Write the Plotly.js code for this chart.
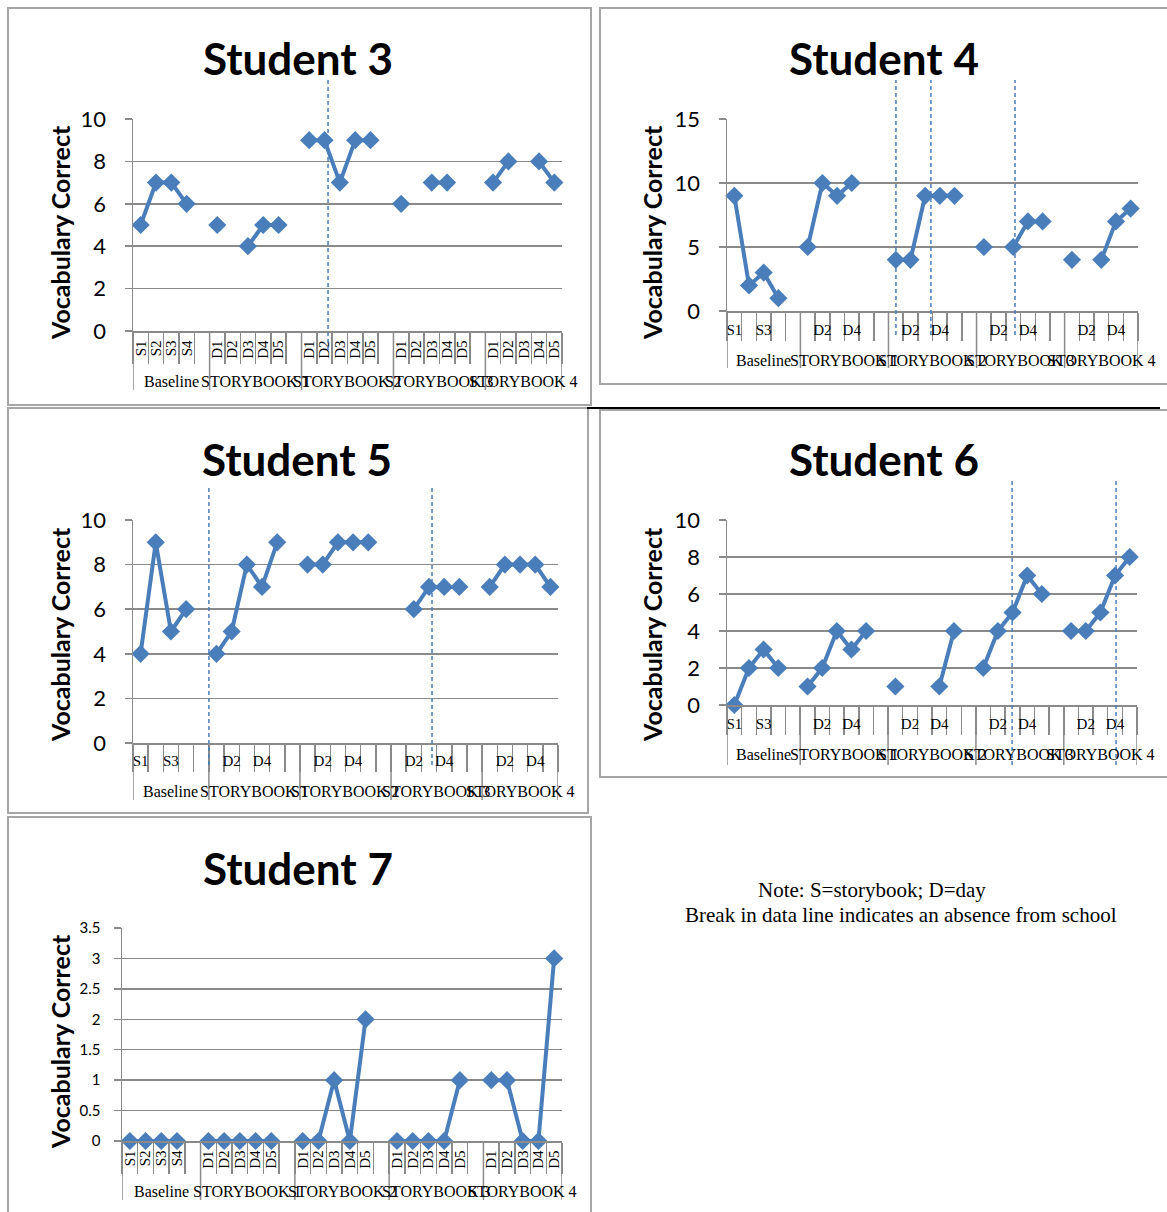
<!DOCTYPE html>
<html><head><meta charset="utf-8">
<script src="https://cdn.plot.ly/plotly-3.0.1.min.js"></script>
<style>html,body{margin:0;padding:0;background:#fff}#chart{width:1167px;height:1212px}</style>
</head><body><div id="chart"></div>
<script>
// ---- data ----
const categories = ['S1','S2','S3','S4','',
  'D1','D2','D3','D4','D5','',
  'D1','D2','D3','D4','D5','',
  'D1','D2','D3','D4','D5','',
  'D1','D2','D3','D4','D5'];
const groupNames = ['Baseline','STORYBOOK 1','STORYBOOK 2','STORYBOOK 3','STORYBOOK 4'];
const groupSizes = [5,6,6,6,5];

const student3 = [5,7,7,6,null, 5,null,4,5,5,null, 9,9,7,9,9,null, 6,null,7,7,null,null, 7,8,null,8,7];
const student4 = [9,2,3,1,null, 5,10,9,10,null,null, 4,4,9,9,9,null, 5,null,5,7,7,null, 4,null,4,7,8];
const student5 = [4,9,5,6,null, 4,5,8,7,9,null, 8,8,9,9,9,null, null,6,7,7,7,null, 7,8,8,8,7];
const student6 = [0,2,3,2,null, 1,2,4,3,4,null, 1,null,null,1,4,null, 2,4,5,7,6,null, 4,4,5,7,8];
const student7 = [0,0,0,0,null, 0,0,0,0,0,null, 0,0,1,0,2,null, 0,0,0,0,1,null, 1,1,0,0,3];

const yTicks3 = [0,2,4,6,8,10];
const yTicks4 = [0,5,10,15];
const yTicks5 = [0,2,4,6,8,10];
const yTicks6 = [0,2,4,6,8,10];
const yTicks7 = [0,0.5,1,1.5,2,2.5,3,3.5];

const yTitle = 'Vocabulary Correct';
const noteLines = ['Note: S=storybook; D=day','Break in data line indicates an absence from school'];

// ---- layout helpers ----
const W = 1167, H = 1212;
const fx = p => p / W, fy = p => 1 - p / H;
const BLUE = '#4a7ebb', GRAY = '#8a8a8a';

const idx = categories.map((c, i) => i);
const boundaries = [];
for (let i = 0; i <= categories.length; i++) boundaries.push(i - 0.5);
const groupEdges = [-0.5]; const groupCenters = [];
groupSizes.reduce((acc, s) => { groupCenters.push(acc + s / 2 - 0.5); groupEdges.push(acc + s - 0.5); return acc + s; }, 0);

const panels = [
  {name:'Student 3', values:student3, yTicks:yTicks3, box:[133,562,119,331], every:1, angle:-90, catTick:31, divBottom:390, groupY:381, titleX:298, titleY:58, yTitleX:60, yTitleY:233, tickSize:22, yStand:14, xStand:2, dashes:[[12.23,80,350]]},
  {name:'Student 4', values:student4, yTicks:yTicks4, box:[727,1138,119,311], every:2, angle:0, catTick:28, divBottom:368, groupY:360, titleX:884, titleY:58, yTitleX:652, yTitleY:233, tickSize:22, yStand:14, xStand:4, dashes:[[11.01,80,335],[13.39,80,335],[19.12,80,335]]},
  {name:'Student 5', values:student5, yTicks:yTicks5, box:[133,558,520,743], every:2, angle:0, catTick:27, divBottom:800, groupY:791, titleX:297, titleY:459, yTitleX:60, yTitleY:635, tickSize:22, yStand:14, xStand:3, dashes:[[4.5,487,765],[19.2,485,765]]},
  {name:'Student 6', values:student6, yTicks:yTicks6, box:[727,1137,520,705], every:2, angle:0, catTick:28, divBottom:765, groupY:754, titleX:884, titleY:459, yTitleX:652, yTitleY:635, tickSize:22, yStand:14, xStand:4, dashes:[[18.97,478,765],[26.07,480,765]]},
  {name:'Student 7', values:student7, yTicks:yTicks7, box:[122,562,928,1141], every:1, angle:-90, catTick:31, divBottom:1200, groupY:1191, titleX:298, titleY:868, yTitleX:60, yTitleY:1042, tickSize:15, yStand:10, xStand:2, dashes:[]}
];

const data = [], shapes = [], annotations = [];
const layout = {
  width: W, height: H, margin:{l:0,r:0,t:0,b:0},
  paper_bgcolor:'#fff', plot_bgcolor:'rgba(0,0,0,0)', showlegend:false,
  font:{family:'Lato', color:'#000'}
};

// panel frames
[[8,8,591,405],[600,8,1172,384],[8,408,588,813],[600,410,1172,777],[8,817,591,1216]].forEach(b => {
  shapes.push({type:'rect', xref:'paper', yref:'paper', x0:fx(b[0]), x1:fx(b[2]), y0:fy(b[3]), y1:fy(b[1]),
    line:{color:'#a6a6a6', width:2}, fillcolor:'rgba(0,0,0,0)', layer:'below'});
});
shapes.push({type:'line', xref:'paper', yref:'paper', x0:fx(587), x1:fx(1160), y0:fy(408), y1:fy(408), line:{color:'#000', width:2}});

panels.forEach((p, k) => {
  const n = k === 0 ? '' : String(k + 1);
  const xa = 'x' + n, ya = 'y' + n;
  const [l, r, t, b] = p.box;
  data.push({type:'scatter', x: idx, y: p.values, xaxis: xa, yaxis: ya,
    mode:'lines+markers', connectgaps:false, cliponaxis:false, hoverinfo:'skip',
    line:{color:BLUE, width:4}, marker:{symbol:'diamond', size:14, color:BLUE}});

  const tv = idx.filter(i => i % p.every === 0);
  layout['xaxis' + n] = {
    domain:[fx(l), fx(r)], anchor: ya, range:[-0.5, categories.length - 0.5],
    tickmode:'array', tickvals: tv, ticktext: tv.map(i => categories[i]), tickangle: p.angle,
    ticks:'', showgrid:false, zeroline:false, showline:true, linecolor:GRAY, linewidth:1.5,
    tickfont:{family:'Liberation Serif', size:15, color:'#000'}, ticklabelstandoff: p.xStand,
    minor:{tickmode:'array', tickvals: boundaries, ticks:'outside', ticklen: p.catTick, tickcolor:GRAY, tickwidth:1.5, showgrid:false},
    fixedrange:true
  };
  const ymax = p.yTicks[p.yTicks.length - 1];
  layout['yaxis' + n] = {
    domain:[fy(b), fy(t)], anchor: xa, range:[0, ymax],
    tickmode:'array', tickvals: p.yTicks, ticks:'outside', ticklen: 7, tickcolor:GRAY, tickwidth:1.5,
    showgrid:true, gridcolor:GRAY, gridwidth:1.5, zeroline:false, showline:true, linecolor:GRAY, linewidth:1.5,
    tickfont:{family:'Lato', size:p.tickSize, color:'#000'}, ticklabelstandoff: p.yStand,
    fixedrange:true
  };

  // y-axis title placed like the original
  annotations.push({xref:'paper', yref:'paper', x:fx(p.yTitleX), y:fy(p.yTitleY), text:'<b>' + yTitle + '</b>',
    textangle:-90, showarrow:false, xanchor:'center', yanchor:'middle', font:{family:'Lato', size:25, color:'#000'}});

  // group dividers and group labels
  groupEdges.forEach(e => shapes.push({type:'line', xref:xa, yref:'paper', x0:e, x1:e, y0:fy(b), y1:fy(p.divBottom),
    line:{color:GRAY, width:1.5}}));
  groupCenters.forEach((c, g) => annotations.push({xref:xa, yref:'paper', x:c, y:fy(p.groupY), text:groupNames[g],
    showarrow:false, xanchor:'center', yanchor:'middle', font:{family:'Liberation Serif', size:16, color:'#000'}}));

  // absence markers (hand-drawn dashed lines)
  p.dashes.forEach(d => shapes.push({type:'line', xref:xa, yref:'paper', x0:d[0], x1:d[0], y0:fy(d[2]), y1:fy(d[1]),
    line:{color:BLUE, width:1.5, dash:'4px,3px'}}));

  annotations.push({xref:'paper', yref:'paper', x:fx(p.titleX), y:fy(p.titleY), text:'<b>' + p.name + '</b>',
    showarrow:false, xanchor:'center', yanchor:'middle', font:{family:'Lato', size:44, color:'#000'}});
});

annotations.push({xref:'paper', yref:'paper', x:fx(872), y:fy(890), text:noteLines[0], showarrow:false,
  xanchor:'center', yanchor:'middle', font:{family:'Liberation Serif', size:21, color:'#000'}});
annotations.push({xref:'paper', yref:'paper', x:fx(901), y:fy(915), text:noteLines[1], showarrow:false,
  xanchor:'center', yanchor:'middle', font:{family:'Liberation Serif', size:21, color:'#000'}});

layout.shapes = shapes;
layout.annotations = annotations;
Plotly.newPlot('chart', data, layout, {staticPlot:true, displayModeBar:false});
</script>
</body></html>
